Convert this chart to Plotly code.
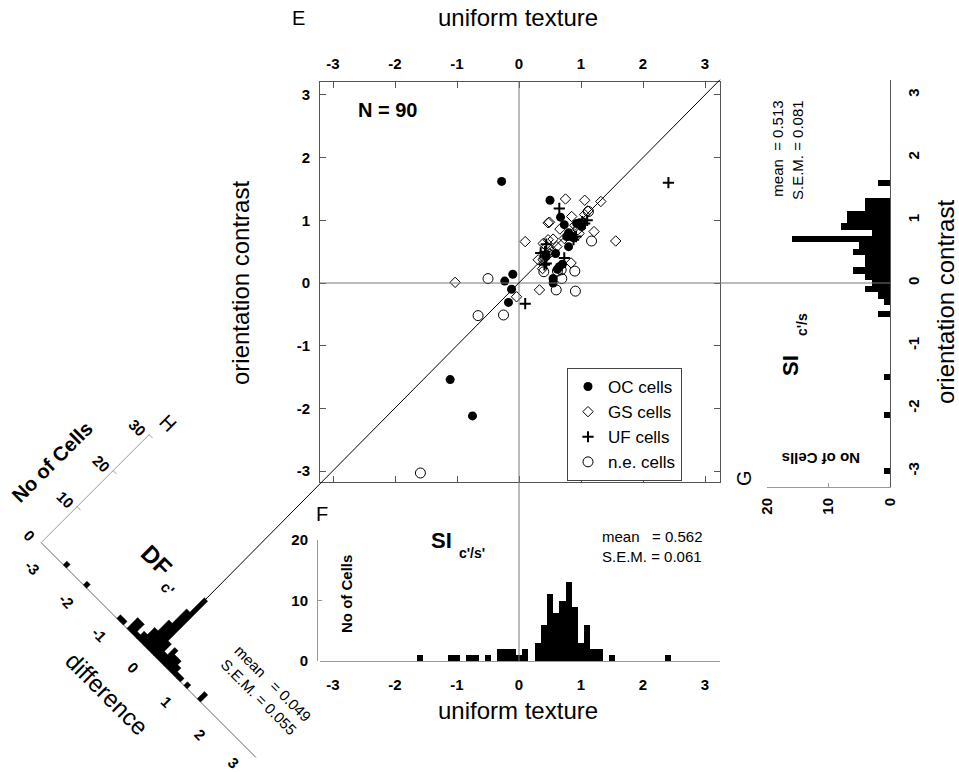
import plotly.graph_objects as go

W, H = 959, 772

# ---------------- data ----------------
oc_x = [-0.28, 0.50, 0.67, 0.73, 0.98, 1.01, 0.93, 0.77, 0.85, 0.80, 0.80, 0.59, 0.44, 0.65, 0.62, 0.55, 0.55, -0.10, -0.23, -0.12, -0.17, -1.11, -0.75, 0.88, 0.70]
oc_y = [1.62, 1.32, 1.05, 0.93, 0.96, 0.90, 0.95, 0.74, 0.75, 0.80, 0.58, 0.47, 0.43, 0.26, 0.22, 0.07, 0.00, 0.14, 0.03, -0.10, -0.31, -1.54, -2.12, 0.72, 0.30]

gs_x = [-1.03, 0.10, 0.33, -0.04, 0.75, 1.06, 1.32, 1.11, 1.06, 0.85, 0.49, 0.47, 0.66, 0.90, 1.21, 1.56, 0.97, 0.47, 0.55, 0.39, 0.45, 0.49, 0.31, 0.39, 0.84, 0.38, 0.73, 0.61, 0.52, 0.95, 0.40]
gs_y = [0.01, 0.66, -0.11, -0.22, 1.34, 1.32, 1.30, 1.15, 1.09, 1.06, 0.97, 0.96, 0.86, 0.92, 0.82, 0.67, 0.79, 0.69, 0.70, 0.63, 0.58, 0.47, 0.37, 0.37, 0.32, 0.23, 0.71, 0.58, 0.53, 0.85, 0.40]

uf_x = [2.41, 0.65, 1.10, 1.06, 0.44, 0.35, 0.44, 0.73, 0.41, 0.10, 0.92, 0.88, 0.42, 1.02]
uf_y = [1.60, 1.19, 1.00, 0.95, 0.62, 0.48, 0.31, 0.40, 0.29, -0.33, 0.74, 0.69, 0.50, 0.98]

ne_x = [-0.50, -0.66, -0.25, -1.59, 0.60, 0.91, 0.90, 0.69, 0.68, 1.17, 0.40, 1.12, 0.62]
ne_y = [0.07, -0.52, -0.51, -3.03, -0.11, -0.13, 0.19, 0.07, 0.21, 0.67, 0.18, 1.14, 0.19]

# F: SI c'/s' (uniform texture) histogram
f_bins = [-1.6, -1.1, -1.0, -0.8, -0.7, -0.5, -0.3, -0.2, -0.1, 0.0, 0.1, 0.3, 0.4, 0.5, 0.6, 0.7, 0.8, 0.9, 1.0, 1.1, 1.2, 1.3, 1.5, 2.4]
f_counts = [1, 1, 1, 1, 1, 1, 2, 2, 2, 1, 2, 3, 6, 11, 8, 10, 13, 9, 3, 6, 2, 2, 1, 1]

# G: SI c'/s (orientation contrast) histogram
g_bins = [1.6, 1.3, 1.2, 1.1, 1.0, 0.9, 0.8, 0.7, 0.6, 0.5, 0.4, 0.3, 0.2, 0.1, 0.0, -0.1, -0.2, -0.3, -0.5, -1.5, -2.1, -3.0]
g_counts = [2, 4, 4, 7, 7, 8, 3, 16, 5, 6, 4, 4, 6, 4, 3, 4, 2, 1, 2, 1, 1, 1]

# H: DF c' (difference) histogram
h_bins = [-2.6, -2.0, -1.0, -0.9, -0.7, -0.6, -0.5, -0.4, -0.3, -0.2, -0.1, 0.0, 0.1, 0.2, 0.3, 0.4, 0.5, 0.6, 0.7, 0.8, 1.0, 1.4]
h_counts = [1, 1, 1, 1, 3, 3, 1, 2, 4, 7, 11, 15, 4, 2, 4, 3, 3, 2, 1, 1, 1, 2]

axis_ticks = [-3, -2, -1, 0, 1, 2, 3]
axis_ticktext = ["-3", "-2", "-1", "0", "1", "2", "3"]
count_ticks_fg = [0, 10, 20]
count_ticks_h = [0, 10, 20, 30]

# ---------------- geometry ----------------
MX0, MX1, MY0, MY1 = 320, 720, 82, 482        # main box (pixels)
XO, XS, YO, YS = 519, 62.0, 283, 62.7          # origin & scale of main axes
x_range = [(MX0 - XO) / XS, (MX1 - XO) / XS]
y_range = [(YO - MY1) / YS, (YO - MY0) / YS]

def PX(px):
    return px / W

def PY(py):
    return 1 - py / H

# H panel (rotated 45 deg) transform
HX0, HY0, HU, HC = 152.0, 653.5, 33.5, 3.6
D_MIN, D_MAX = -3.31, 3.1

def hpt(d, c):
    return HX0 + HU * d + HC * c, HY0 + HU * d - HC * c

FONT = "Liberation Sans, Arial, sans-serif"
BOLD = dict(family=FONT, size=15, color="black", weight="bold")

fig = go.Figure()

# ---------------- main scatter ----------------
fig.add_trace(go.Scatter(x=oc_x, y=oc_y, mode="markers", name="OC cells",
                         marker=dict(symbol="circle", size=9, color="black"),
                         xaxis="x", yaxis="y"))
fig.add_trace(go.Scatter(x=gs_x, y=gs_y, mode="markers", name="GS cells",
                         marker=dict(symbol="diamond-open", size=8, color="black",
                                     line=dict(width=1, color="black")),
                         xaxis="x", yaxis="y"))
fig.add_trace(go.Scatter(x=uf_x, y=uf_y, mode="markers", name="UF cells",
                         marker=dict(symbol="cross-thin", size=8, color="black",
                                     line=dict(width=2, color="black")),
                         xaxis="x", yaxis="y"))
fig.add_trace(go.Scatter(x=ne_x, y=ne_y, mode="markers", name="n.e. cells",
                         marker=dict(symbol="circle-open", size=10, color="black",
                                     line=dict(width=1, color="black")),
                         xaxis="x", yaxis="y"))

# ---------------- F histogram ----------------
fig.add_trace(go.Bar(x=f_bins, y=f_counts, width=0.1, marker=dict(color="black", line=dict(width=0)),
                     xaxis="x2", yaxis="y2", showlegend=False))

# ---------------- G histogram ----------------
fig.add_trace(go.Bar(y=g_bins, x=g_counts, width=0.1, orientation="h",
                     marker=dict(color="black", line=dict(width=0)),
                     xaxis="x3", yaxis="y3", showlegend=False))

# ---------------- overlay (pixel) layer: reference lines and H panel ----------------
def pline(xs, ys, color="#555", width=1):
    fig.add_trace(go.Scatter(x=xs, y=ys, mode="lines", line=dict(color=color, width=width),
                             xaxis="x4", yaxis="y4", showlegend=False, hoverinfo="skip"))

# zero lines extended into F and G
pline([MX0, 890], [YO, YO], color="#777")
pline([XO, XO], [MY0, 661], color="#777")
# identity line from H origin to the main box corner
cx, cy = XO + x_range[1] * XS, YO - x_range[1] * YS
pline([HX0, cx], [HY0, cy], color="black", width=1)

# H axes
ax0 = hpt(D_MIN, 0)
ax1 = hpt(D_MAX, 0)
pline([ax0[0], ax1[0]], [ax0[1], ax1[1]], color="#666")
cy0 = hpt(D_MIN, 30)
pline([ax0[0], cy0[0]], [ax0[1], cy0[1]], color="#999")
for c in count_ticks_h[1:]:
    a = hpt(D_MIN, c)
    b = hpt(D_MIN + 0.1, c)
    pline([a[0], b[0]], [a[1], b[1]], color="#999")

# H bars
hxs, hys = [], []
for d, n in zip(h_bins, h_counts):
    corners = [hpt(d - 0.05, 0), hpt(d + 0.05, 0), hpt(d + 0.05, n), hpt(d - 0.05, n), hpt(d - 0.05, 0)]
    hxs += [p[0] for p in corners] + [None]
    hys += [p[1] for p in corners] + [None]
fig.add_trace(go.Scatter(x=hxs, y=hys, mode="lines", fill="toself", fillcolor="black",
                         line=dict(color="black", width=0.5), xaxis="x4", yaxis="y4",
                         showlegend=False, hoverinfo="skip"))

# ---------------- annotations ----------------
ann = []

def text(px, py, s, size=15, angle=0, bold=False, align="center"):
    f = dict(family=FONT, size=size, color="black")
    if bold:
        f["weight"] = "bold"
    ann.append(dict(x=PX(px), y=PY(py), xref="paper", yref="paper", text=s, showarrow=False,
                    textangle=angle, font=f, xanchor="center", yanchor="middle", align=align))

NB = "\u00a0"
# main
text(298, 18, "E", 20)
text(518, 18, "uniform texture", 24)
text(240, 283, "orientation contrast", 24, angle=-90)
text(387, 110, "N = 90", 20, bold=True)
# F
text(322, 514, "F", 20)
text(441, 540, "SI", 22, bold=True)
text(472, 553, "c'/s'", 14, bold=True)
text(346, 594, "No of Cells", 15, angle=-90, bold=True)
text(652, 546, "mean" + NB * 3 + "= 0.562<br>S.E.M. = 0.061", 15, align="left")
text(518, 710, "uniform texture", 24)
# G
text(744, 478, "G", 20, angle=-90)
text(790, 366, "SI", 22, angle=-90, bold=True)
text(802, 325, "c'/s", 14, angle=-90, bold=True)
text(821, 459, "No of Cells", 15, angle=180, bold=True)
text(787, 150, "mean" + NB * 2 + "= 0.513<br>S.E.M. = 0.081", 15, angle=-90, align="right")
text(945, 302, "orientation contrast", 24, angle=-90)
# H
text(168, 423, "H", 20, angle=45)
text(52, 462, "No of Cells", 20, angle=-45, bold=True)
text(157, 560, "DF", 24, angle=45, bold=True)
text(168, 588, "c'", 15, angle=45, bold=True)
text(107, 693, "difference", 24, angle=45)
text(266, 690, "mean" + NB * 3 + "= 0.049<br>S.E.M. = 0.055", 15, angle=45, align="left")
for d, lab in zip(axis_ticks, axis_ticktext):
    p = hpt(d, 0)
    text(p[0] - 19, min(p[1] + 14, 762), lab, 15, angle=45, bold=True)
for c in count_ticks_h:
    p = hpt(D_MIN, c)
    text(p[0] - 12, p[1] - 7, str(c), 15, angle=45, bold=True)

# ---------------- layout ----------------
common = dict(showgrid=False, zeroline=False)
fig.update_layout(
    width=W, height=H, margin=dict(l=0, r=0, t=0, b=0),
    template="none", paper_bgcolor="white", plot_bgcolor="rgba(0,0,0,0)",
    font=dict(family=FONT, color="black"),
    showlegend=True,
    legend=dict(x=PX(567), y=PY(368), xanchor="left", yanchor="top",
                bgcolor="white", bordercolor="#444", borderwidth=1,
                font=dict(family=FONT, size=17, color="black"), tracegroupgap=0,
                itemsizing="trace", entrywidth=100, entrywidthmode="pixels"),
    bargap=0,
    xaxis=dict(domain=[PX(MX0), PX(MX1)], range=x_range, anchor="y", side="top",
               tickvals=axis_ticks, ticktext=axis_ticktext, ticks="inside", ticklen=6, tickcolor="#555",
               showline=True, linecolor="#555", linewidth=1, mirror="ticks",
               tickfont=BOLD, ticklabelstandoff=6, **common),
    yaxis=dict(domain=[PY(MY1), PY(MY0)], range=y_range, anchor="x",
               tickvals=axis_ticks, ticktext=axis_ticktext, ticks="inside", ticklen=6, tickcolor="#555",
               showline=True, linecolor="#555", linewidth=1, mirror="ticks",
               tickfont=BOLD, ticklabelstandoff=6, **common),
    xaxis2=dict(domain=[PX(MX0), PX(MX1)], range=x_range, anchor="y2",
                tickvals=axis_ticks, ticktext=axis_ticktext, ticks="", showline=True, linecolor="#999",
                tickfont=BOLD, ticklabelstandoff=10, **common),
    yaxis2=dict(domain=[PY(661), PY(540)], range=[0, 20], anchor="free", position=PX(317),
                tickvals=count_ticks_fg, ticks="inside", ticklen=4, tickcolor="#999",
                showline=True, linecolor="#999", tickfont=BOLD, ticklabelstandoff=6, **common),
    xaxis3=dict(domain=[PX(767), PX(890)], range=[20, 0], anchor="y3",
                tickvals=count_ticks_fg, ticks="inside", ticklen=4, tickcolor="#999",
                showline=True, linecolor="#999", tickangle=-90,
                tickfont=BOLD, ticklabelstandoff=4, **common),
    yaxis3=dict(domain=[PY(487), PY(80)], range=[(YO - 487) / YS, (YO - 80) / YS],
                anchor="x3", side="right", tickvals=axis_ticks, ticktext=axis_ticktext, ticks="",
                showline=True, linecolor="#555", tickangle=-90,
                tickfont=BOLD, ticklabelstandoff=10, **common),
    xaxis4=dict(domain=[0, 1], range=[0, W], anchor="y4", visible=False, fixedrange=True, **common),
    yaxis4=dict(domain=[0, 1], range=[H, 0], anchor="x4", visible=False, fixedrange=True, **common),
    annotations=ann,
)

fig.write_html("out.html")
